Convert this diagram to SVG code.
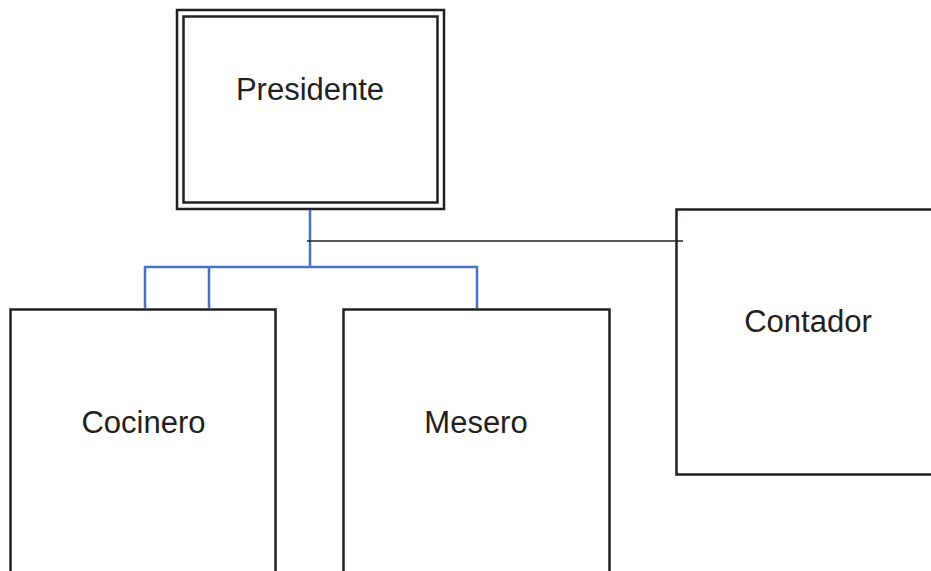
<svg xmlns="http://www.w3.org/2000/svg" width="931" height="571" viewBox="0 0 931 571">
<style>
.box{fill:#fff;stroke:#231f20;stroke-width:2.5}
.lbl{font-family:"Liberation Sans",Arial,sans-serif;font-size:31px;fill:#231f20;text-anchor:middle}
.blue{stroke:#4472c4;fill:none;stroke-width:2.5}
</style>
<rect width="931" height="571" fill="#fff"/>
<g id="presidente">
<rect class="box" x="177" y="10" width="267" height="199"/>
<rect class="box" x="183.5" y="16.5" width="254" height="186"/>
<text class="lbl" x="310" y="100">Presidente</text>
</g>
<g id="cocinero">
<rect class="box" x="10.5" y="309.5" width="265" height="280"/>
<text class="lbl" x="143.5" y="433">Cocinero</text>
</g>
<g id="mesero">
<rect class="box" x="343.5" y="309.5" width="266" height="280"/>
<text class="lbl" x="476" y="433">Mesero</text>
</g>
<g id="contador">
<rect class="box" x="676.5" y="209.5" width="280" height="265"/>
<text class="lbl" x="808" y="332">Contador</text>
</g>
<g id="connectors">
<path class="blue" d="M310,210 V267" stroke-width="3.5"/>
<path class="blue" d="M145,308 V267 H477 V308 M209,267 V308"/>
<path d="M307,241 H683" stroke="#231f20" stroke-width="1.5" fill="none"/>
</g>
</svg>
